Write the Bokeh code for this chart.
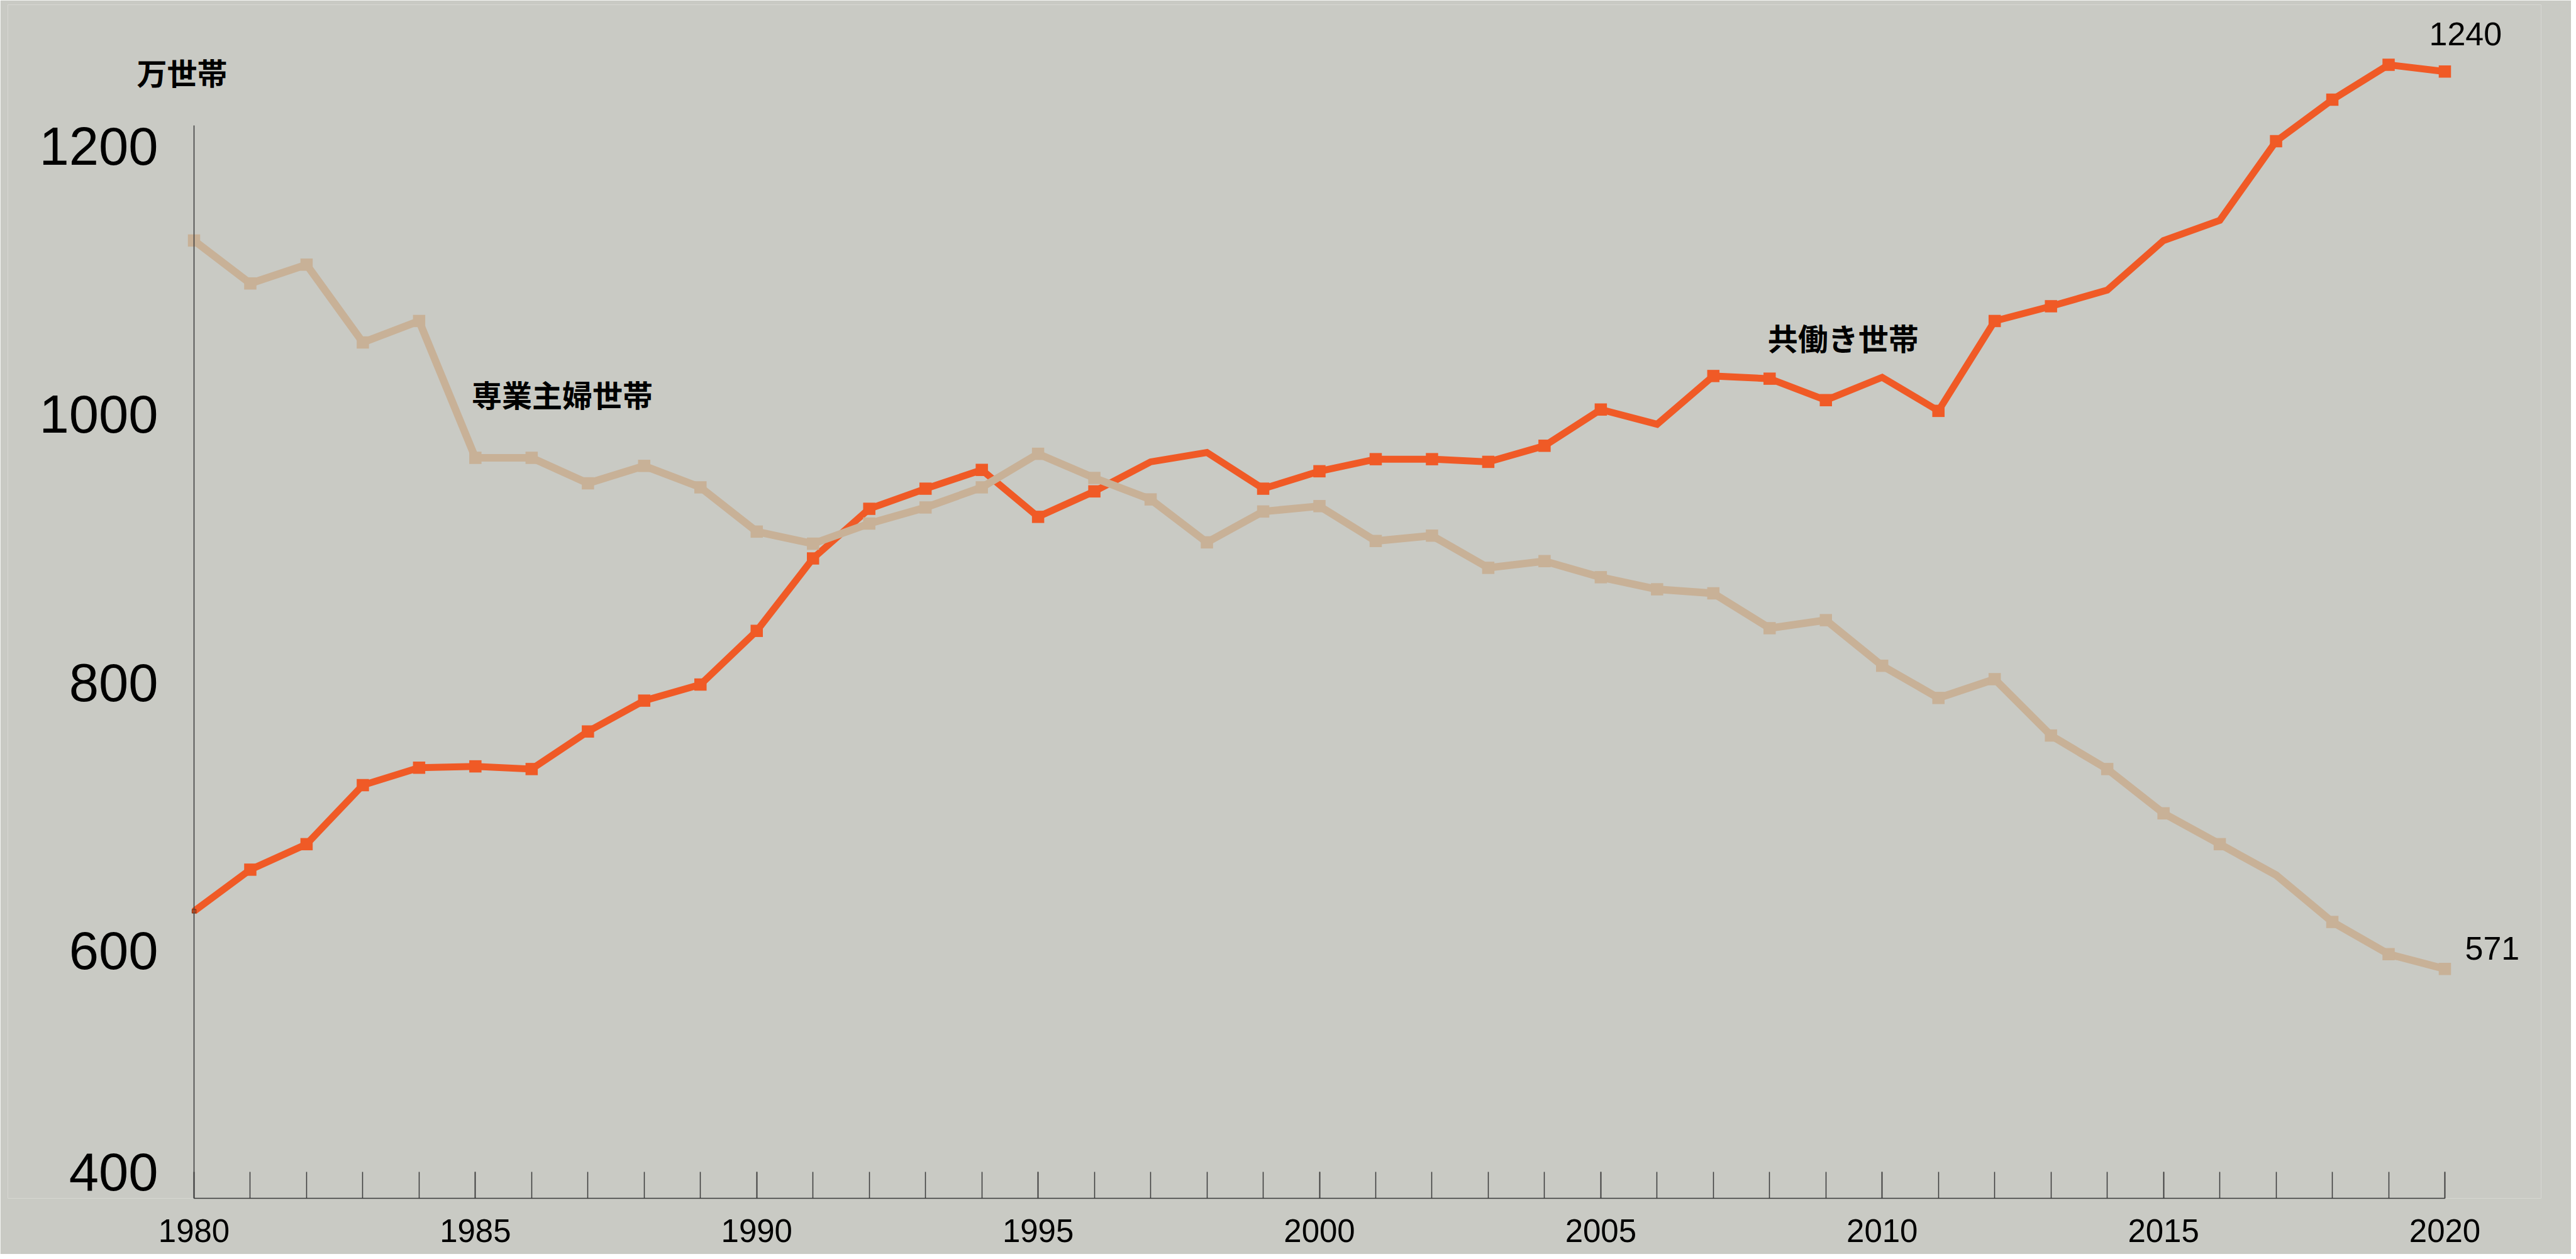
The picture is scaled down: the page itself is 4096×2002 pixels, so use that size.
from bokeh.plotting import figure
from bokeh.models import Range1d, SingleIntervalTicker, FixedTicker, ColumnDataSource
from bokeh.core.properties import value
from bokeh.embed import file_html
from bokeh.resources import INLINE

# ---------------- data ----------------
years = list(range(1980, 2021))
kyobataraki = [614, 645, 664, 708, 721, 722, 720, 748, 771, 783,
               823, 877, 914, 929, 943, 908, 927, 949, 956, 929,
               942, 951, 951, 949, 961, 988, 977, 1013, 1011, 995,
               1012, 987, 1054, 1065, 1077, 1114, 1129, 1188, 1219, 1245,
               1240]
sengyo = [1114, 1082, 1096, 1038, 1054, 952, 952, 933, 946, 930,
          897, 888, 903, 915, 930, 955, 937, 921, 889, 912,
          916, 890, 894, 870, 875, 863, 854, 851, 825, 831,
          797, 773, 787, 745, 720, 687, 664, 641, 606, 582,
          571]
y_ticks = [400, 600, 800, 1000, 1200]
y_tick_labels = ["400", "600", "800", "1000", "1200"]
unit_label = "万世帯"
series_names = ["専業主婦世帯", "共働き世帯"]
# years drawn without a square marker in the reference
kyo_no_marker = [1997, 1998, 2006, 2010, 2014, 2015, 2016]
sen_no_marker = [2017]

# ---------------- style ----------------
BG = "#C9CAC4"
ORANGE = "#F05A26"
TAN = "#C8B197"
AXIS = "#3a3a3a"
DIGIT_FONT_NAME = "Liberation Sans"
DIGIT_FONT = value(DIGIT_FONT_NAME)
JP_FONT = value("Noto Sans CJK JP")

W, H = 4088, 1994
BL, BR, BT, BB = 12, 48, 7, 89          # borders (figure px)
X1980, X2020 = 308.0, 3887.0            # figure px of first/last year
Y1200, Y400 = 198.5, float(H - BB)      # figure px of axis top/bottom

ppy = (X2020 - X1980) / 40.0
ppu = (Y400 - Y1200) / 800.0
x_start = 1980 - (X1980 - BL) / ppy
x_end = 2020 + ((W - BR) - X2020) / ppy
y_end = 1200 + (Y1200 - BT) / ppu

p = figure(width=W, height=H,
           x_range=Range1d(x_start, x_end), y_range=Range1d(400, y_end),
           output_backend="svg", toolbar_location=None,
           min_border_left=BL, min_border_right=BR,
           min_border_top=BT, min_border_bottom=BB,
           background_fill_color=BG, border_fill_color=BG,
           outline_line_color=None)
p.grid.visible = False

# x axis
xa = p.xaxis[0]
xa.ticker = SingleIntervalTicker(interval=5, num_minor_ticks=5)
xa.bounds = (1980, 2020)
xa.axis_line_color = AXIS
xa.axis_line_width = 1.5
xa.major_tick_line_color = AXIS
xa.minor_tick_line_color = AXIS
xa.major_tick_line_width = 1.5
xa.minor_tick_line_width = 1.5
xa.major_tick_in = 42
xa.major_tick_out = 0
xa.minor_tick_in = 42
xa.minor_tick_out = 0
xa.major_label_text_font = DIGIT_FONT_NAME
xa.major_label_text_font_size = "51px"
xa.major_label_text_color = "#000000"
xa.major_label_standoff = 33

# y axis: a plain rule at 1980 from 400 to 1200
ya = p.yaxis[0]
ya.fixed_location = 1980
ya.bounds = (400, 1200)
ya.ticker = FixedTicker(ticks=[])
ya.axis_line_color = AXIS
ya.axis_line_width = 1.5
ya.major_tick_out = 0
ya.major_tick_in = 0
ya.minor_tick_out = 0
ya.major_label_standoff = 0

# lines
p.line(years, kyobataraki, line_color=ORANGE, line_width=11, line_join="miter")
kx = [y for y in years[1:] if y not in kyo_no_marker]
ky = [v for y, v in zip(years[1:], kyobataraki[1:]) if y not in kyo_no_marker]
p.scatter(kx, ky, marker="square", size=19.5, fill_color=ORANGE, line_color=None)
p.scatter(years[:1], kyobataraki[:1], marker="square", size=6,
          fill_color=ORANGE, line_color="#6b2a10", line_width=1.2)

p.line(years, sengyo, line_color=TAN, line_width=12, line_join="miter")
sx = [y for y in years if y not in sen_no_marker]
sy = [v for y, v in zip(years, sengyo) if y not in sen_no_marker]
p.scatter(sx, sy, marker="square", size=19.5, fill_color=TAN, line_color=None)

# y tick labels (top of digits on the tick, lowest one sits above the axis)
ysrc = ColumnDataSource(dict(
    x=[1980] * len(y_ticks), y=y_ticks, t=y_tick_labels,
    dy=[(-42 if v == y_ticks[0] else 33) for v in y_ticks]))
p.text(x="x", y="y", text="t", source=ysrc, x_offset=-57, y_offset="dy",
       text_align="right", text_baseline="alphabetic",
       text_font=DIGIT_FONT, text_font_size="85px", text_color="#000000")

# unit label
p.text(x=[1980], y=[1200], text=[unit_label], x_offset=-91, y_offset=-85,
       text_align="left", text_baseline="middle",
       text_font=JP_FONT, text_font_style="bold", text_font_size="48px",
       text_color="#000000")

# series labels
p.text(x=[1985, 2008], y=[1000, 1042], text=series_names, x_offset=[-6, -3],
       text_align="left", text_baseline="middle",
       text_font=JP_FONT, text_font_style="bold", text_font_size="48px",
       text_color="#000000")

# end value labels
p.text(x=[2020], y=[kyobataraki[-1]], text=[str(kyobataraki[-1])],
       x_offset=-25, y_offset=-60, text_align="left", text_baseline="alphabetic",
       text_font=DIGIT_FONT, text_font_size="52px", text_color="#000000")
p.text(x=[2020], y=[sengyo[-1]], text=[str(sengyo[-1])],
       x_offset=32, y_offset=-33, text_align="left", text_baseline="alphabetic",
       text_font=DIGIT_FONT, text_font_size="52px", text_color="#000000")

open("out.html", "w").write(file_html(p, INLINE))
